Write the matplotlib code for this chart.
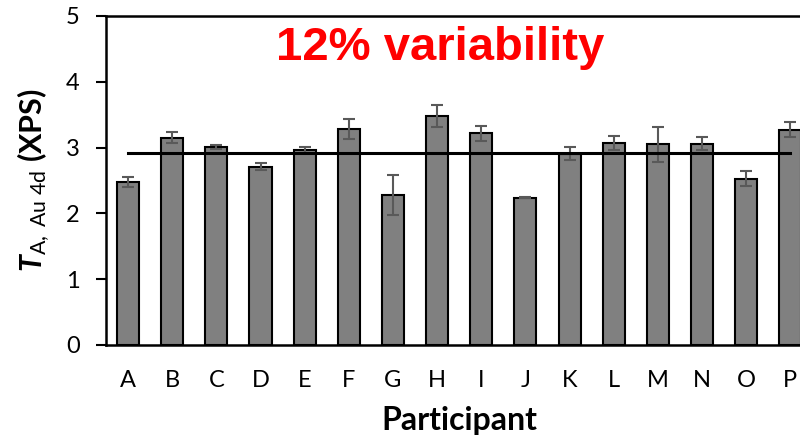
import matplotlib
matplotlib.use("Agg")
import matplotlib.pyplot as plt

participants = ["A", "B", "C", "D", "E", "F", "G", "H",
                "I", "J", "K", "L", "M", "N", "O", "P"]
t_values = [2.48, 3.15, 3.01, 2.71, 2.96, 3.28, 2.28, 3.48,
            3.22, 2.24, 2.91, 3.07, 3.05, 3.06, 2.53, 3.27]
t_errors = [0.08, 0.085, 0.03, 0.055, 0.045, 0.155, 0.30, 0.165,
            0.115, 0.01, 0.10, 0.11, 0.27, 0.095, 0.12, 0.115]
mean_value = 2.92

plt.rcParams['font.family'] = ['Lato', 'DejaVu Sans']
plt.rcParams['mathtext.fontset'] = 'custom'
plt.rcParams['mathtext.rm'] = 'Lato'
plt.rcParams['mathtext.it'] = 'Lato:italic'
plt.rcParams['mathtext.bf'] = 'Lato:bold'
plt.rcParams['mathtext.bfit'] = 'Lato:bold:italic'

fig = plt.figure(figsize=(8, 4.44), dpi=100)
# plot area runs past the right edge, as in the original crop
ax = fig.add_axes([0.1325, 0.223, 0.883, 0.741])

x = list(range(len(participants)))
ax.bar(x, t_values, width=0.5, color='#808080', edgecolor='black',
       linewidth=1.5, zorder=2)
ax.errorbar(x, t_values, yerr=t_errors, fmt='none', ecolor='#595959',
            elinewidth=1.5, capsize=4, capthick=1.5, zorder=3)
ax.plot([x[0], x[-1]], [mean_value, mean_value], color='black', lw=2.2, zorder=4)

ax.set_xlim(-0.5, len(participants) - 0.5)
ax.set_ylim(0, 5)
ax.set_yticks([0, 1, 2, 3, 4, 5])
ax.set_xticks(x)
ax.set_xticklabels(participants)
ax.tick_params(axis='x', length=0, pad=18, labelsize=17)
ax.tick_params(axis='y', length=7, width=1.5, direction='out', labelsize=17, pad=12)
for s in ax.spines.values():
    s.set_linewidth(1.8)

ax.set_xlabel("Participant", fontsize=23, fontweight='bold', labelpad=11)
ax.set_ylabel(r'$\mathbfit{T}_{\mathrm{A,\ Au\ 4d}}$ (XPS)', fontsize=22,
              fontweight='bold', labelpad=10)

fig.text(0.55, 0.865, "12% variability", color='#ff0000', fontsize=34,
         fontweight='bold', family='Liberation Sans', ha='center', va='baseline')

fig.savefig("out.png", dpi=100)
